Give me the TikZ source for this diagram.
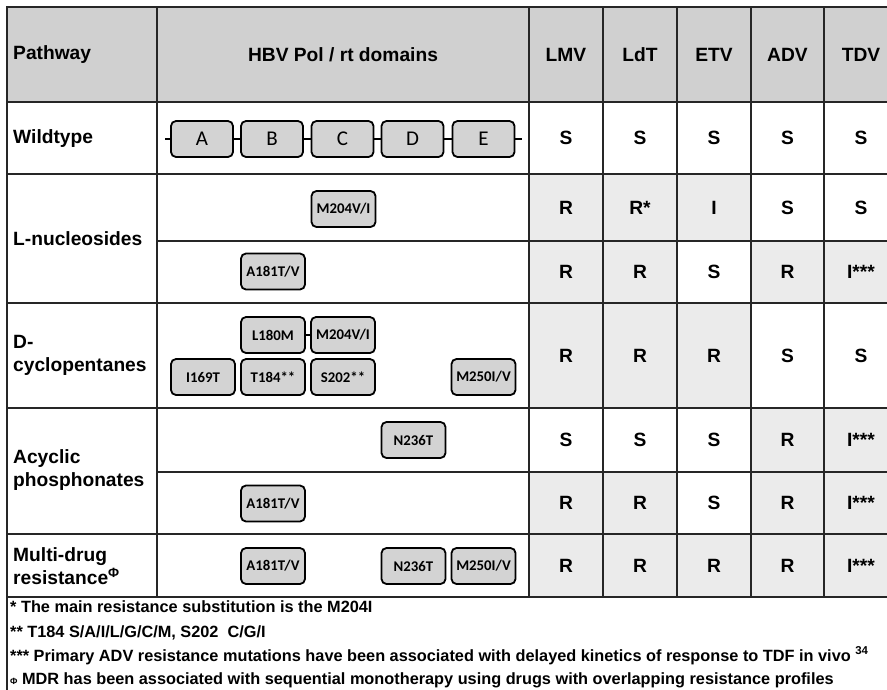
\documentclass[tikz,border=0pt]{standalone}
\usepackage{fontspec}
\setmainfont{Liberation Sans}
\newfontfamily\carlito{Carlito}
\definecolor{hdrgray}{HTML}{D0D0D0}
\definecolor{cellgray}{HTML}{EBEBEB}
\definecolor{boxgray}{HTML}{D3D3D3}
\tikzset{
	cellS/.style={minimum width=74pt,inner sep=0pt,font=\bfseries\fontsize{19.2}{22}\selectfont},
	cellR/.style={cellS,fill=cellgray},
	pathlab/.style={anchor=west,align=left,inner sep=0pt,font=\bfseries\fontsize{19.2}{23.5}\selectfont},
	rtdomain/.style={draw,line width=1.8pt,rounded corners=5pt,fill=boxgray,minimum width=62pt,minimum height=36pt,inner sep=0pt,font=\carlito\fontsize{21}{21}\selectfont},
	mutbox/.style={draw,line width=1.8pt,rounded corners=5pt,fill=boxgray,minimum width=64pt,minimum height=36pt,inner sep=0pt,font=\carlito\bfseries\fontsize{14.8}{14.8}\selectfont},
	footnote/.style={anchor=base west,inner sep=0pt,font=\bfseries\fontsize{16.3}{16.3}\selectfont}
}
\begin{document}
\begin{tikzpicture}[x=1pt,y=-1pt]
	\useasboundingbox (0,0) rectangle (887,689);

	% header
	\fill[hdrgray] (7,7) rectangle (898,102);
	\node[pathlab] (hpath) at (13,55) {Pathway};
	\node[pathlab,anchor=center] (hdom) at (343,55) {HBV Pol / rt domains};
	\node[cellS] (hlmv) at (566,55) {LMV};
	\node[cellS] (hldt) at (640,55) {LdT};
	\node[cellS] (hetv) at (714,55) {ETV};
	\node[cellS] (hadv) at (787.5,55) {ADV};
	\node[cellS] (htdv) at (861,55) {TDV};

	% wildtype
	\node[pathlab] (pwild) at (13,139) {Wildtype};
	\coordinate (bbL) at (165,139);
	\coordinate (bbR) at (522,139);
	\draw[line width=1.8pt] (bbL) -- (bbR);
	\node[rtdomain] (dA) at (202,139) {A};
	\node[rtdomain] (dB) at (272,139) {B};
	\node[rtdomain] (dC) at (342.5,139) {C};
	\node[rtdomain] (dD) at (412.5,139) {D};
	\node[rtdomain] (dE) at (483.5,139) {E};
	\node[cellS,minimum height=72pt] (w1) at (566,138) {S};
	\node[cellS,minimum height=72pt] (w2) at (640,138) {S};
	\node[cellS,minimum height=72pt] (w3) at (714,138) {S};
	\node[cellS,minimum height=72pt] (w4) at (787.5,138) {S};
	\node[cellS,minimum height=72pt] (w5) at (861,138) {S};

	% L-nucleosides
	\node[pathlab] (plnuc) at (13,238.5) {L-nucleosides};
	\node[mutbox] (lm204) at (343.5,209) {M204V/I};
	\node[cellR,minimum height=67pt] (la1) at (566,207.5) {R};
	\node[cellR,minimum height=67pt] (la2) at (640,207.5) {R*};
	\node[cellR,minimum height=67pt] (la3) at (714,207.5) {I};
	\node[cellS,minimum height=67pt] (la4) at (787.5,207.5) {S};
	\node[cellS,minimum height=67pt] (la5) at (861,207.5) {S};
	\node[mutbox] (la181) at (273,271.5) {A181T/V};
	\node[cellR,minimum height=62pt] (lb1) at (566,272) {R};
	\node[cellR,minimum height=62pt] (lb2) at (640,272) {R};
	\node[cellS,minimum height=62pt] (lb3) at (714,272) {S};
	\node[cellR,minimum height=62pt] (lb4) at (787.5,272) {R};
	\node[cellR,minimum height=62pt] (lb5) at (861,272) {I***};

	% D-cyclopentanes
	\node[pathlab] (pdcyc) at (13,355.5) {D-\\cyclopentanes};
	\node[mutbox] (dl180) at (273,335) {L180M};
	\node[mutbox] (dm204) at (343,335) {M204V/I};
	\draw[line width=1.8pt] (dl180.east) -- (dm204.west);
	\node[mutbox] (di169) at (203,377) {I169T};
	\node[mutbox] (dt184) at (273,377) {T184**};
	\node[mutbox] (ds202) at (343,377) {S202**};
	\node[mutbox] (dm250) at (483.5,377) {M250I/V};
	\node[cellR,minimum height=105pt] (dc1) at (566,355.5) {R};
	\node[cellR,minimum height=105pt] (dc2) at (640,355.5) {R};
	\node[cellR,minimum height=105pt] (dc3) at (714,355.5) {R};
	\node[cellS,minimum height=105pt] (dc4) at (787.5,355.5) {S};
	\node[cellS,minimum height=105pt] (dc5) at (861,355.5) {S};

	% acyclic phosphonates
	\node[pathlab] (pacyc) at (13,470) {Acyclic\\phosphonates};
	\node[mutbox] (an236) at (413.5,440) {N236T};
	\node[cellS,minimum height=64pt] (aa1) at (566,440) {S};
	\node[cellS,minimum height=64pt] (aa2) at (640,440) {S};
	\node[cellS,minimum height=64pt] (aa3) at (714,440) {S};
	\node[cellR,minimum height=64pt] (aa4) at (787.5,440) {R};
	\node[cellR,minimum height=64pt] (aa5) at (861,440) {I***};
	\node[mutbox] (aa181) at (273,503.5) {A181T/V};
	\node[cellR,minimum height=62pt] (ab1) at (566,503) {R};
	\node[cellR,minimum height=62pt] (ab2) at (640,503) {R};
	\node[cellS,minimum height=62pt] (ab3) at (714,503) {S};
	\node[cellR,minimum height=62pt] (ab4) at (787.5,503) {R};
	\node[cellR,minimum height=62pt] (ab5) at (861,503) {I***};

	% multi-drug resistance
	\node[pathlab] (pmdr) at (13,566) {Multi-drug\\resistance\textsuperscript{Φ}};
	\node[mutbox] (ma181) at (273,566) {A181T/V};
	\node[mutbox] (mn236) at (413.5,566) {N236T};
	\node[mutbox] (mm250) at (483.5,566) {M250I/V};
	\node[cellR,minimum height=63pt] (mr1) at (566,565.5) {R};
	\node[cellR,minimum height=63pt] (mr2) at (640,565.5) {R};
	\node[cellR,minimum height=63pt] (mr3) at (714,565.5) {R};
	\node[cellR,minimum height=63pt] (mr4) at (787.5,565.5) {R};
	\node[cellR,minimum height=63pt] (mr5) at (861,565.5) {I***};

	% grid
	\draw[black!85,line width=1.2pt] (7,7) rectangle (898,597);
	\draw[black!85,line width=1.2pt] (7,102) -- (898,102) (7,174) -- (898,174) (7,303) -- (898,303)
		(7,408) -- (898,408) (7,534) -- (898,534) (157,241) -- (898,241) (157,472) -- (898,472);
	\draw[black!85,line width=1.2pt] (157,7) -- (157,597) (529,7) -- (529,597) (603,7) -- (603,597)
		(677,7) -- (677,597) (751,7) -- (751,597) (824,7) -- (824,597);
	\draw[black!85,line width=1.2pt] (7,597) rectangle (898,700);

	% footnotes
	\node[footnote] (fn1) at (10,612) {* The main resistance substitution is the M204I};
	\node[footnote] (fn2) at (10,637) {** T184 S/A/I/L/G/C/M, S202\ \ C/G/I};
	\node[footnote] (fn3) at (10,661) {*** Primary ADV resistance mutations have been associated with delayed kinetics of response to TDF in vivo \textsuperscript{34}};
	\node[footnote] (fn4) at (10,684) {{\fontsize{9}{9}\selectfont Φ} MDR has been associated with sequential monotherapy using drugs with overlapping resistance profiles};
\end{tikzpicture}
\end{document}
